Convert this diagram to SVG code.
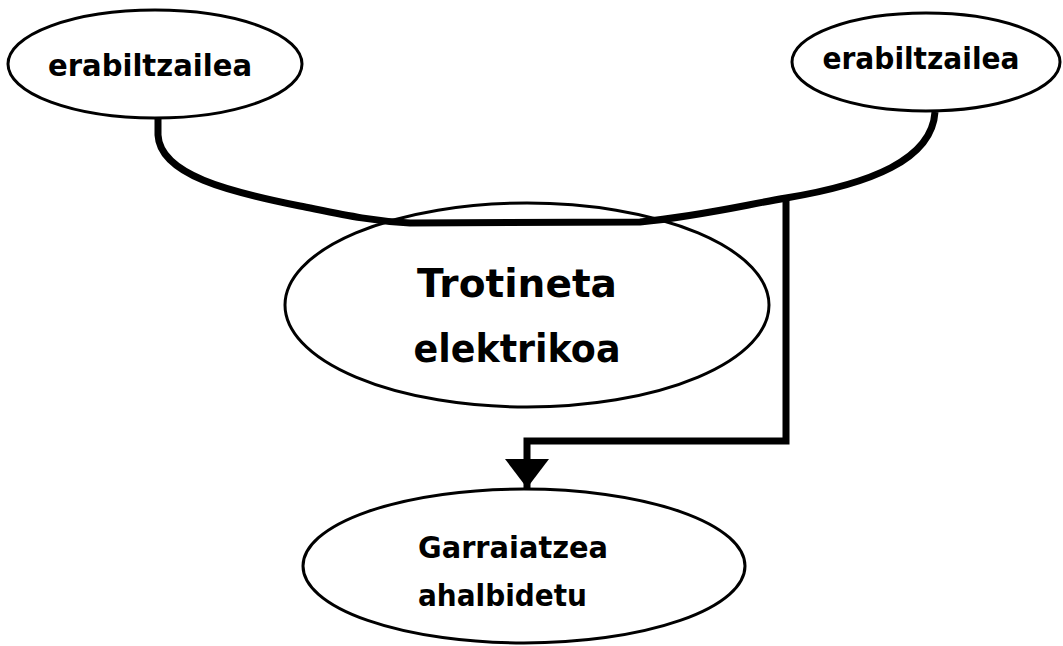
<svg xmlns="http://www.w3.org/2000/svg" width="1063" height="646" viewBox="0 0 1063 646">
<style>
.node ellipse{fill:#fff;stroke:#000;stroke-width:3}
.lbl{font-family:"DejaVu Sans","Liberation Sans",sans-serif;font-weight:bold;fill:#000}
.conn{fill:none;stroke:#000;stroke-width:7;stroke-linejoin:miter}
</style>
<defs>
<marker id="arr" markerUnits="userSpaceOnUse" markerWidth="30" markerHeight="44" refX="29" refY="22" orient="auto" viewBox="0 0 30 44">
<path d="M0,0 L29,22 L0,44 Z" fill="#000"/>
</marker>
</defs>
<rect width="1063" height="646" fill="#fff"/>
<g id="n-user-left" class="node">
<ellipse cx="155" cy="64" rx="147" ry="54"/>
<text class="lbl" x="150" y="76" font-size="30" text-anchor="middle" textLength="204" lengthAdjust="spacingAndGlyphs">erabiltzailea</text>
</g>
<g id="n-user-right" class="node">
<ellipse cx="926" cy="62" rx="134" ry="49"/>
<text class="lbl" x="921" y="69" font-size="30" text-anchor="middle" textLength="197" lengthAdjust="spacingAndGlyphs">erabiltzailea</text>
</g>
<g id="n-scooter" class="node">
<ellipse cx="527" cy="305" rx="242" ry="102"/>
<text class="lbl" x="517" y="297" font-size="39" text-anchor="middle" textLength="200" lengthAdjust="spacingAndGlyphs">Trotineta</text>
<text class="lbl" x="517" y="362" font-size="39" text-anchor="middle" textLength="207" lengthAdjust="spacingAndGlyphs">elektrikoa</text>
</g>
<g id="n-transport" class="node">
<ellipse cx="524" cy="566" rx="221" ry="77"/>
<text class="lbl" x="418" y="558" font-size="30" textLength="190" lengthAdjust="spacingAndGlyphs">Garraiatzea</text>
<text class="lbl" x="418" y="606" font-size="30" textLength="169" lengthAdjust="spacingAndGlyphs">ahalbidetu</text>
</g>
<g id="connectors">
<path class="conn" d="M158,118 L158,135 C160,175 230,192 300,206 C340,214 370,221 410,223 L640,222 C700,216 740,206 786,198 C870,184 932,160 935,112"/>
<path class="conn" d="M786,198 L786,441 L527,441 L527,488" marker-end="url(#arr)"/>
</g>
</svg>
